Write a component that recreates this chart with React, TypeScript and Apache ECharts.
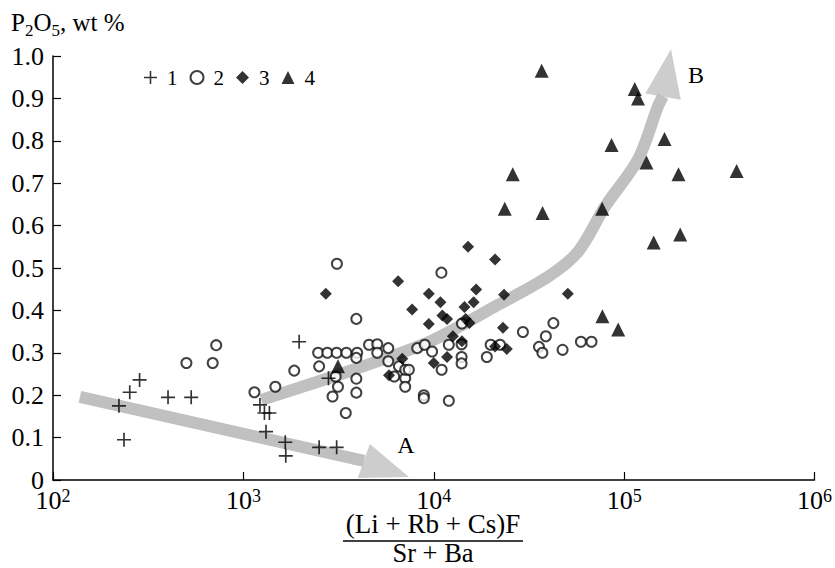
import React, { useEffect, useRef } from "react";
import * as echarts from "echarts";

const FONT = "Liberation Serif";

// Legend / series names
const seriesNames = ["1", "2", "3", "4"];

// Axis ranges
const xMin = 100;
const xMax = 1000000;
const yMin = 0;
const yMax = 1.0;
const yStep = 0.1;

// Group 1 (plus)
const group1: number[][] = [
  [222, 0.175], [253, 0.207], [285, 0.236], [236, 0.095], [402, 0.195], [532, 0.195],
  [1222, 0.177], [1290, 0.158], [1370, 0.158], [1315, 0.114], [1660, 0.089], [1670, 0.057],
  [2500, 0.077], [3090, 0.077], [1963, 0.326], [2800, 0.24],
];

// Group 2 (open circles)
const group2: number[][] = [
  [502, 0.276], [690, 0.276], [720, 0.318], [1143, 0.207], [1472, 0.22], [1850, 0.258],
  [2470, 0.3], [2760, 0.3], [3090, 0.3], [3475, 0.3], [3960, 0.3],
  [2500, 0.268], [3055, 0.244], [3140, 0.22], [2940, 0.197], [3450, 0.158], [3100, 0.51],
  [3920, 0.38], [3920, 0.288], [3920, 0.239], [3920, 0.206],
  [4570, 0.319], [5050, 0.32], [5050, 0.3], [5770, 0.311], [5770, 0.28], [6560, 0.268],
  [6200, 0.244], [7080, 0.24], [7080, 0.22], [7080, 0.26], [7400, 0.26],
  [8190, 0.311], [8970, 0.319], [9800, 0.303], [11000, 0.26], [10970, 0.489], [12000, 0.319],
  [14060, 0.369], [14000, 0.32], [14000, 0.29], [14000, 0.275], [19000, 0.29], [19900, 0.319],
  [22300, 0.319], [8870, 0.2], [8870, 0.193], [12000, 0.187], [29400, 0.349], [42500, 0.37],
  [38800, 0.339], [35700, 0.314], [37200, 0.3], [47500, 0.307], [59300, 0.326], [67400, 0.326],
];

// Group 3 (filled diamonds)
const group3: number[][] = [
  [2710, 0.439], [6500, 0.469], [15140, 0.55], [21000, 0.52], [9420, 0.439], [10840, 0.419],
  [7700, 0.402], [11100, 0.388], [11750, 0.38], [9420, 0.368], [16700, 0.449], [16200, 0.419],
  [14500, 0.408], [14700, 0.38], [15400, 0.37], [12600, 0.339], [14060, 0.327], [6830, 0.286],
  [5820, 0.247], [10000, 0.276], [11750, 0.29], [21000, 0.315], [23100, 0.359], [23400, 0.437],
  [50600, 0.439], [24200, 0.309],
];

// Group 4 (filled triangles)
const group4: number[][] = [
  [3140, 0.268], [36900, 0.965], [113700, 0.922], [118300, 0.9], [163000, 0.804], [85900, 0.79],
  [131000, 0.749], [26000, 0.721], [193000, 0.721], [390000, 0.729], [23600, 0.64], [37300, 0.63],
  [76700, 0.64], [197000, 0.579], [143000, 0.56], [76900, 0.386], [93100, 0.355],
];

// Trend arrows (data coordinates)
const arrowABody: number[][] = [[138.5, 0.196], [4300, 0.045]];
const arrowAHead: number[] = [5640, 0.026];
const arrowBBody: number[][] = [
  [1242, 0.189], [1965, 0.2175], [4049, 0.2648], [9760, 0.3286], [21890, 0.4137],
  [40000, 0.4799], [57440, 0.539], [79540, 0.6454], [118400, 0.7565], [150700, 0.8818],
  [160000, 0.9054],
];
const arrowBHead: number[] = [168000, 0.96];

const PLUS = "path://M4.4,0H5.6V4.4H10V5.6H5.6V10H4.4V5.6H0V4.4H4.4Z";
const ARROW_GRAY = "#c0c0c0";
const INK = "#000";

export default function App() {
  const ref = useRef<HTMLDivElement>(null);

  useEffect(() => {
    if (!ref.current) return;
    const chart = echarts.init(ref.current, undefined, { renderer: "svg" });

    const option: any = {
      animation: false,
      backgroundColor: "#fff",
      textStyle: { fontFamily: FONT, color: "#000" },
      grid: { left: 53, right: 19, top: 56, bottom: 88, containLabel: false },
      legend: {
        data: seriesNames,
        left: 139,
        top: 62,
        itemWidth: 13,
        itemHeight: 13,
        itemGap: 12,
        textStyle: { fontSize: 21, fontFamily: FONT, color: "#000", padding: [0, 0, 0, 5] },
      },
      xAxis: {
        type: "log",
        logBase: 10,
        min: xMin,
        max: xMax,
        splitLine: { show: false },
        axisLine: { lineStyle: { color: "#000", width: 1.5 } },
        axisTick: { inside: true, length: 8, lineStyle: { color: "#000", width: 1.2 } },
        axisLabel: {
          margin: 7,
          fontFamily: FONT,
          fontSize: 26,
          lineHeight: 22,
          color: "#000",
          formatter: (v: number) => `{b|10}{s|${Math.round(Math.log10(v))}}`,
          rich: {
            b: { fontSize: 26, lineHeight: 22, fontFamily: FONT, color: "#000", verticalAlign: "top" },
            s: { fontSize: 18, lineHeight: 18, fontFamily: FONT, color: "#000", verticalAlign: "top" },
          },
        },
      },
      yAxis: {
        type: "value",
        min: yMin,
        max: yMax,
        interval: yStep,
        splitLine: { show: false },
        axisLine: { show: true, lineStyle: { color: "#000", width: 1.5 } },
        axisTick: { show: true, inside: true, length: 8, lineStyle: { color: "#000", width: 1.2 } },
        axisLabel: {
          margin: 9,
          fontSize: 26,
          lineHeight: 16,
          fontFamily: FONT,
          color: "#000",
          formatter: (v: number) => (v === 0 ? "0" : v.toFixed(1)),
        },
      },
      series: [
        {
          name: "arrowA",
          type: "line",
          data: arrowABody,
          symbol: "none",
          lineStyle: { color: ARROW_GRAY, width: 12, cap: "butt" },
          z: 1,
          silent: true,
        },
        {
          name: "arrowAHead",
          type: "scatter",
          data: [arrowAHead],
          symbol: "triangle",
          symbolSize: [36, 48],
          symbolRotate: -109.6,
          itemStyle: { color: ARROW_GRAY },
          z: 1,
          silent: true,
        },
        {
          name: "arrowB",
          type: "line",
          data: arrowBBody,
          smooth: 0.3,
          symbol: "none",
          lineStyle: { color: ARROW_GRAY, width: 12, cap: "butt" },
          z: 1,
          silent: true,
        },
        {
          name: "arrowBHead",
          type: "scatter",
          data: [arrowBHead],
          symbol: "triangle",
          symbolSize: [36, 48],
          symbolRotate: -9.6,
          itemStyle: { color: ARROW_GRAY },
          z: 1,
          clip: false,
          silent: true,
        },
        {
          name: "1",
          type: "scatter",
          data: group1,
          symbol: PLUS,
          symbolSize: 14,
          itemStyle: { color: INK },
          z: 3,
        },
        {
          name: "2",
          type: "scatter",
          data: group2,
          symbol: "emptyCircle",
          symbolSize: 10,
          itemStyle: { color: "#111", borderWidth: 1.7 },
          z: 2,
        },
        {
          name: "3",
          type: "scatter",
          data: group3,
          symbol: "diamond",
          symbolSize: 12,
          itemStyle: { color: INK },
          z: 3,
        },
        {
          name: "4",
          type: "scatter",
          data: group4,
          symbol: "triangle",
          symbolSize: 14,
          itemStyle: { color: INK },
          z: 4,
        },
      ],
      graphic: [
        {
          type: "text",
          left: 11,
          top: 10,
          style: {
            text: "{n|P}{s|2}{n|O}{s|5}{n|, wt %}",
            fontFamily: FONT,
            fontSize: 25,
            rich: {
              n: { fontSize: 25, fontFamily: FONT, fill: "#000", verticalAlign: "bottom", padding: [0, 0, 4, 0] },
              s: { fontSize: 17, fontFamily: FONT, fill: "#000", verticalAlign: "bottom" },
            },
          },
        },
        {
          type: "text",
          x: 406,
          y: 445,
          style: { text: "A", fontSize: 24, fontFamily: FONT, fill: "#000", align: "center", verticalAlign: "middle" },
        },
        {
          type: "text",
          x: 696,
          y: 75,
          style: { text: "B", fontSize: 24, fontFamily: FONT, fill: "#000", align: "center", verticalAlign: "middle" },
        },
        {
          type: "text",
          x: 433,
          y: 524,
          style: { text: "(Li + Rb + Cs)F", fontSize: 27, lineHeight: 26, fontFamily: FONT, fill: "#000", align: "center", verticalAlign: "middle" },
        },
        {
          type: "line",
          shape: { x1: 343, y1: 541, x2: 523, y2: 541 },
          style: { stroke: "#000", lineWidth: 1.6 },
        },
        {
          type: "text",
          x: 433,
          y: 553,
          style: { text: "Sr + Ba", fontSize: 26.5, lineHeight: 24, fontFamily: FONT, fill: "#000", align: "center", verticalAlign: "middle" },
        },
      ],
    };

    chart.setOption(option);
    return () => chart.dispose();
  }, []);

  return (
    <div
      ref={ref}
      style={{ position: "absolute", left: 0, top: 0, width: 835, height: 568, background: "#fff" }}
    />
  );
}
